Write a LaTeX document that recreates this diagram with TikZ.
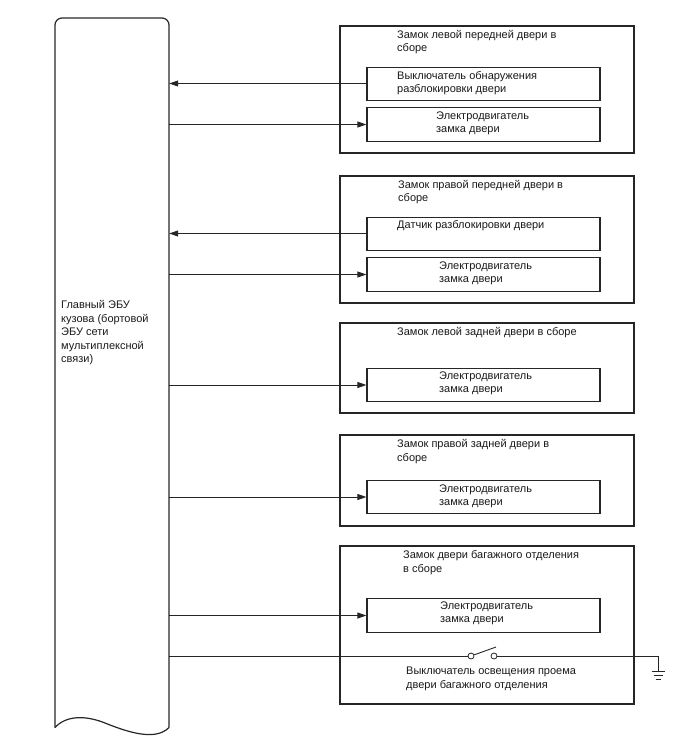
\documentclass[tikz,border=0pt]{standalone}
\usepackage{fontspec}
\setmainfont{Liberation Sans}
\usetikzlibrary{arrows.meta}
\tikzset{
    line/.style={draw=black!85, line width=1.2pt},
    wire/.style={draw=black!85, line width=0.9pt},
    arrow/.style={wire, -{Triangle[length=9pt,width=6pt]}},
    outerbox/.style={line, minimum width=294pt, inner sep=0pt},
    innerbox/.style={line, minimum width=233pt, minimum height=33.5pt, inner sep=0pt},
    txt/.style={anchor=west, align=left, inner sep=0pt, text=black!90, font=\fontsize{11}{13.5}\selectfont},
    contact/.style={circle, draw=black!85, line width=0.8pt, fill=white, minimum size=6pt, inner sep=0pt}
}
\begin{document}
\begin{tikzpicture}[x=1pt,y=-1pt]
    \useasboundingbox (0,0) rectangle (688,755);

    % body unit
    \node[minimum width=114pt, minimum height=709pt, inner sep=0pt] (ecu) at (112,372.5) {};
    \draw[line, rounded corners=7pt] (55,727.5) -- (55,18) -- (169,18) -- (169,727.5);
    \draw[line] (55,727.5) .. controls (66,715.5) and (85,715) .. (105,723) .. controls (125,731) and (155,742) .. (169,727.5);
    \node[txt] (ecutext) at (61,333) {Главный ЭБУ\\кузова (бортовой\\ЭБУ сети\\мультиплексной\\связи)};

    % outer boxes
    \node[outerbox, minimum height=127pt] (lockA) at (487,89.5) {};
    \node[outerbox, minimum height=127pt] (lockB) at (487,239.5) {};
    \node[outerbox, minimum height=90pt] (lockC) at (487,368) {};
    \node[outerbox, minimum height=91pt] (lockD) at (487,480.5) {};
    \node[outerbox, minimum height=158pt] (lockE) at (487,625) {};

    % inner boxes
    \node[innerbox] (sensorA) at (483.5,84) {};
    \node[innerbox] (motorA) at (483.5,124.5) {};
    \node[innerbox] (sensorB) at (483.5,234) {};
    \node[innerbox] (motorB) at (483.5,274.5) {};
    \node[innerbox] (motorC) at (483.5,385) {};
    \node[innerbox] (motorD) at (483.5,497) {};
    \node[innerbox] (motorE) at (483.5,615.5) {};

    % texts
    \node[txt] (titleA) at (397,42) {Замок левой передней двери в\\сборе};
    \node[txt] (titleB) at (398,192) {Замок правой передней двери в\\сборе};
    \node[txt] (titleC) at (397,333) {Замок левой задней двери в сборе};
    \node[txt] (titleD) at (397,451.5) {Замок правой задней двери в\\сборе};
    \node[txt] (titleE) at (403,562.5) {Замок двери багажного отделения\\в сборе};
    \node[txt] (textsensorA) at (397,83) {Выключатель обнаружения\\разблокировки двери};
    \node[txt] (textsensorB) at (397,226) {Датчик разблокировки двери};
    \node[txt] (textmotorA) at (436,123.5) {Электродвигатель\\замка двери};
    \node[txt] (textmotorB) at (439,273.5) {Электродвигатель\\замка двери};
    \node[txt] (textmotorC) at (439,383.5) {Электродвигатель\\замка двери};
    \node[txt] (textmotorD) at (439,496.5) {Электродвигатель\\замка двери};
    \node[txt] (textmotorE) at (440,613.5) {Электродвигатель\\замка двери};
    \node[txt] (textswitch) at (406,679) {Выключатель освещения проема\\двери багажного отделения};

    % signals
    \draw[arrow] ([yshift=0.5pt]sensorA.west) -- ([yshift=0.5pt]sensorA.west -| ecu.east);
    \draw[arrow] (ecu.east |- motorA.west) -- (motorA.west);
    \draw[arrow] ([yshift=0.5pt]sensorB.west) -- ([yshift=0.5pt]sensorB.west -| ecu.east);
    \draw[arrow] (ecu.east |- motorB.west) -- (motorB.west);
    \draw[arrow] (ecu.east |- motorC.west) -- (motorC.west);
    \draw[arrow] (ecu.east |- motorD.west) -- (motorD.west);
    \draw[arrow] (ecu.east |- motorE.west) -- (motorE.west);

    % door switch and ground
    \node[contact] (swleft) at (471,656) {};
    \node[contact] (swright) at (494,656) {};
    \coordinate (swtip) at (496,647);
    \coordinate (gndtop) at (658,656);
    \coordinate (gnd) at (658,671);
    \draw[wire] (ecu.east |- swleft) -- (swleft);
    \draw[wire] (swleft) -- (swtip);
    \draw[wire] (swright) -- (gndtop) -- (gnd);
    \draw[wire] ([xshift=-6.5pt]gnd) -- ([xshift=6.5pt]gnd);
    \draw[wire] ([xshift=-4.5pt,yshift=-4pt]gnd) -- ([xshift=4.5pt,yshift=-4pt]gnd);
    \draw[wire] ([xshift=-2.5pt,yshift=-8pt]gnd) -- ([xshift=2.5pt,yshift=-8pt]gnd);
\end{tikzpicture}
\end{document}
